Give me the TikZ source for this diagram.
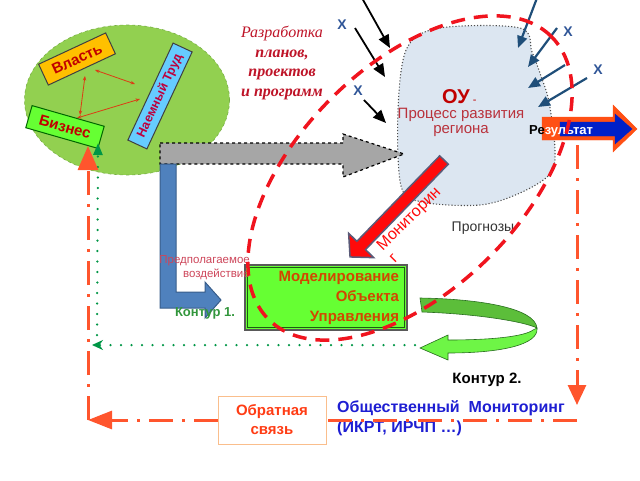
\documentclass[tikz,border=0pt]{standalone}
\usepackage{fontspec}
\setmainfont{Liberation Sans}
\newfontfamily\serifit{Liberation Serif}
\usetikzlibrary{arrows.meta,calc,shapes.geometric}
\definecolor{elgreen}{RGB}{146,208,80}
\definecolor{elborder}{RGB}{120,175,70}
\definecolor{bizgreen}{RGB}{102,255,51}
\definecolor{vlast}{RGB}{255,192,0}
\definecolor{ltblue}{RGB}{102,204,255}
\definecolor{darkred}{RGB}{192,0,0}
\definecolor{trudred}{RGB}{190,0,60}
\definecolor{smallred}{RGB}{220,60,20}
\definecolor{blobfill}{RGB}{220,230,241}
\definecolor{xblue}{RGB}{47,85,151}
\definecolor{arrblue}{RGB}{31,78,121}
\definecolor{arrgray}{RGB}{166,166,166}
\definecolor{steel}{RGB}{79,129,189}
\definecolor{steeldark}{RGB}{56,93,138}
\definecolor{fbred}{RGB}{255,85,45}
\definecolor{fbborder}{RGB}{250,190,140}
\definecolor{fbtext}{RGB}{255,60,20}
\definecolor{dotgreen}{RGB}{0,150,70}
\definecolor{k1green}{RGB}{50,150,60}
\definecolor{procred}{RGB}{185,50,60}
\definecolor{modgreen}{RGB}{102,255,51}
\definecolor{modinner}{RGB}{30,90,20}
\definecolor{modtext}{RGB}{210,70,0}
\definecolor{pinkred}{RGB}{205,70,90}
\definecolor{monblue}{RGB}{30,30,210}
\definecolor{resorange}{RGB}{255,80,20}
\definecolor{resblue}{RGB}{0,32,200}
\definecolor{monred}{RGB}{255,10,10}
\definecolor{monborder}{RGB}{90,90,120}
\definecolor{dashred}{RGB}{240,20,30}
\definecolor{ribdark}{RGB}{92,190,58}
\definecolor{riblight}{RGB}{110,245,70}
\definecolor{ribline}{RGB}{40,110,30}
\definecolor{razred}{RGB}{190,20,40}
\tikzset{
  blackarr/.style={draw=black, line width=1.8pt, -{Triangle[length=13pt,width=11pt]}},
  bluearr/.style={draw=arrblue, line width=2.2pt, -{Triangle[length=12pt,width=10pt]}},
  xlab/.style={text=xblue, font=\bfseries\fontsize{14}{14}\selectfont, inner sep=0pt},
  smallarr/.style={draw=smallred, line width=0.8pt, {Stealth[length=4.5pt,width=3.5pt]}-{Stealth[length=4.5pt,width=3.5pt]}},
  rbox/.style={draw=black!75, line width=1pt, minimum height=23pt, inner sep=0pt, font=\bfseries\fontsize{15}{15}\selectfont},
  dashdot/.style={draw=fbred, line width=3pt, dash pattern=on 24pt off 9pt on 3pt off 9pt},
  gdots/.style={draw=dotgreen, line width=2.5pt, line cap=round, dash pattern=on 0pt off 10.5pt},
  reddash/.style={draw=dashred, line width=3.5pt, dash pattern=on 14pt off 9pt},
}
\begin{document}
\begin{tikzpicture}[x=1pt,y=-1pt]
\useasboundingbox (0,0) rectangle (640,480);

% green ellipse with actors
\node[ellipse, fill=elgreen, draw=elborder, dashed, line width=0.6pt, minimum width=205pt, minimum height=150pt, inner sep=0pt] (ell) at (127,100) {};
\node[rbox, fill=vlast, text=darkred, minimum width=74pt, rotate=25] (vl) at (77,59) {Власть};
\node[rbox, fill=bizgreen, draw=black!60!green, text=darkred, minimum width=75pt, rotate=-16] (biz) at (65,127) {Бизнес};
\node[rbox, fill=ltblue, text=trudred, minimum width=107pt, minimum height=21pt, rotate=65, font=\bfseries\fontsize{12.5}{12.5}\selectfont] (trud) at (160,96) {Наемный Труд};
\coordinate (s1a) at (95,70); \coordinate (s1b) at (135,84);
\coordinate (s2a) at (85,76); \coordinate (s2b) at (80,115);
\coordinate (s3a) at (77,118); \coordinate (s3b) at (140,99);
\draw[smallarr] (s1a) -- (s1b);
\draw[smallarr] (s2a) -- (s2b);
\draw[smallarr] (s3a) -- (s3b);

% object blob
\draw[fill=blobfill, draw=black!70, line width=1.1pt, dotted] plot[smooth cycle, tension=0.55] coordinates {(407,48) (440,28) (520,28) (532,52) (541,76) (549,102) (555,150) (550,174) (520,193) (480,205) (422,202) (401,186) (398,110)};

% gray dashed arrow
\draw[fill=arrgray, draw=black, dashed, line width=1.2pt] (160,143) -- (343,143) -- (343,134) -- (404,154) -- (343,177) -- (343,164) -- (160,164) -- cycle;
% blue L arrow
\draw[fill=steel, draw=steeldark, line width=1pt] (160,164) -- (176,164) -- (176,292) -- (205,292) -- (205,282) -- (221,300) -- (205,318) -- (205,308) -- (160,308) -- cycle;

% result arrow
\draw[fill=resorange, draw=resorange] (542,117) -- (613,117) -- (613,105) -- (637,129) -- (613,152) -- (613,140) -- (542,140) -- cycle;
\draw[fill=resblue, draw=resblue] (560,122) -- (615,122) -- (615,114) -- (632,129) -- (615,144) -- (615,136) -- (560,136) -- cycle;
\node[anchor=base west, inner sep=0pt, font=\bfseries\fontsize{13}{13}\selectfont] (res) at (529,134) {\textcolor{black}{Ре}\textcolor{white}{зультат}};

% monitoring arrow
\begin{scope}[shift={(444,160)}, rotate=-134.1]
\draw[fill=monred, draw=monborder, line width=1.5pt] (0,-6) -- (119,-6) -- (119,-17.5) -- (135,0) -- (119,17.5) -- (119,6) -- (0,6) -- cycle;
\end{scope}

% model box
\node[fill=modgreen, draw=black!65, line width=2.5pt, minimum width=162pt, minimum height=65pt, text width=146pt, inner xsep=8pt, align=right, text=modtext, font=\bfseries\fontsize{15}{20}\selectfont] (mod) at (326,297.5) {Моделирование\\Объекта\\Управления};
\draw[draw=modinner, line width=1pt] ($(mod.south west)+(3.5,-3.5)$) rectangle ($(mod.north east)+(-3.5,3.5)$);

% green ribbon (Контур 2)
\draw[fill=ribdark, draw=ribline, line width=0.6pt] (420,298) .. controls (480,299) and (535,308) .. (537,328) .. controls (525,322) and (480,314) .. (422,312) -- cycle;
\draw[fill=riblight, draw=ribline, line width=0.6pt] (537,328) .. controls (539,345) and (500,353) .. (448,353) -- (448,360) -- (420,348) -- (448,335) -- (448,340) .. controls (495,340) and (525,336) .. (533,330) -- cycle;

% disturbance arrows
\coordinate (a1s) at (362,-2); \coordinate (a1e) at (390,48);
\coordinate (a2s) at (355,28); \coordinate (a2e) at (385,77);
\coordinate (a3s) at (364,100); \coordinate (a3e) at (386,123);
\draw[blackarr] (a1s) -- (a1e);
\draw[blackarr] (a2s) -- (a2e);
\draw[blackarr] (a3s) -- (a3e);
\coordinate (b1s) at (537,-2); \coordinate (b1e) at (518,48);
\coordinate (b2s) at (557,28); \coordinate (b2e) at (528,67);
\coordinate (b3s) at (565,65); \coordinate (b3e) at (528,88);
\coordinate (b4s) at (587,78); \coordinate (b4e) at (538,107);
\draw[bluearr] (b1s) -- (b1e);
\draw[bluearr] (b2s) -- (b2e);
\draw[bluearr] (b3s) -- (b3e);
\draw[bluearr] (b4s) -- (b4e);
\node[xlab] (x1) at (342,25) {X};
\node[xlab] (x2) at (358,91) {X};
\node[xlab] (x3) at (568,32) {X};
\node[xlab] (x4) at (598,70) {X};

% texts
\node[align=center, text=razred, inner sep=0pt, font=\serifit\bfseries\itshape\fontsize{16}{19.5}\selectfont] (raz) at (282,63) {{\mdseries Разработка}\\планов,\\проектов\\и программ};
\node[anchor=base west, inner sep=0pt, text=darkred] (ou) at (442,103) {{\bfseries\fontsize{20}{20}\selectfont ОУ}{\fontsize{11}{11}\selectfont\ -}};
\node[align=center, text=procred, inner sep=0pt, font=\fontsize{15}{15}\selectfont] (proc) at (461,122) {Процесс развития\\региона};
\node[anchor=north west, rotate=45, align=left, inner sep=0pt, text=monred, font=\fontsize{16}{17}\selectfont] (monit) at (374.7,243.7) {Мониторин\\г};
\node[text=black!80, inner sep=0pt, font=\fontsize{14}{14}\selectfont] (progn) at (483,228) {Прогнозы};
\node[anchor=east, align=right, text=pinkred, inner sep=0pt, font=\fontsize{11.5}{14}\selectfont] (pred) at (250,268) {Предполагаемое\\воздействие};
\node[text=k1green, inner sep=0pt, font=\bfseries\fontsize{13}{13}\selectfont] (k1) at (205,313) {Контур 1.};
\node[text=black, inner sep=0pt, font=\bfseries\fontsize{15}{15}\selectfont] (k2) at (487,380) {Контур 2.};
\node[draw=fbborder, fill=white, line width=1pt, minimum width=108pt, minimum height=48pt, align=center, text=fbtext, font=\bfseries\fontsize{15}{19}\selectfont] (fb) at (272,420) {Обратная\\связь};
\node[anchor=west, align=left, text=monblue, inner sep=0pt, font=\bfseries\fontsize{16}{20}\selectfont] (obsh) at (337,418) {Общественный\ \ Мониторинг\\(ИКРТ, ИРЧП …)};

% green dotted connectors
\coordinate (gh1) at (415,345); \coordinate (gh2) at (92,345);
\coordinate (gv1) at (97,335); \coordinate (gv2) at (98,143);
\draw[gdots, -{Stealth[length=11pt,width=10pt]}] (gh1) -- (gh2);
\draw[gdots, -{Triangle[length=12pt,width=9pt]}] (gv1) -- (gv2);

% feedback dash-dot connectors
\coordinate (rv1) at (577,145); \coordinate (rv2) at (577,405);
\coordinate (rh1) at (577,420); \coordinate (corner) at (88,420);
\coordinate (bizin) at (88,146);
\draw[dashdot, -{Triangle[length=20pt,width=18pt]}] (rv1) -- (rv2);
\draw[dashdot] (rh1) -- (fb.east);
\draw[dashdot, -{Triangle[length=24pt,width=18pt]}] (fb.west) -- (corner);
\draw[dashdot, -{Triangle[length=24pt,width=20pt]}] (corner) -- (bizin);

% red dashed contour
\draw[reddash, rotate around={45:(410,178)}] (410,178) ellipse [x radius=200pt, y radius=112pt];
\end{tikzpicture}
\end{document}
